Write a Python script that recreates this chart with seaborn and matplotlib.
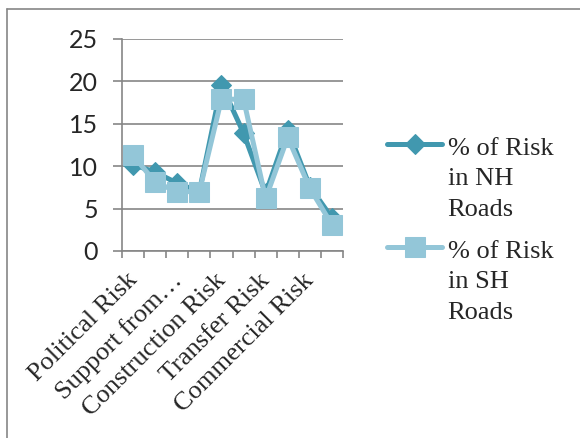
import numpy as np
import pandas as pd
import seaborn as sns
import matplotlib.pyplot as plt
from matplotlib.legend_handler import HandlerLine2D
from matplotlib.lines import Line2D
import matplotlib.transforms as mtransforms

# categories (only every second one is labelled in the original chart)
risks = ['Political Risk', 'Financial Risk', 'Support from\u2026', 'Design Risk',
         'Construction Risk', 'Operation Risk', 'Transfer Risk', 'Revenue Risk',
         'Commercial Risk', 'Force Majeure']
nh_risk = [10.2, 9.3, 8.0, 7.0, 19.6, 13.9, 6.8, 14.3, 7.6, 3.9]
sh_risk = [11.3, 8.1, 7.0, 7.0, 17.9, 17.9, 6.2, 13.4, 7.4, 3.1]
series_names = ['% of Risk\nin NH\nRoads', '% of Risk\nin SH\nRoads']

nh_color = '#4198AF'
sh_color = '#93C6D8'
grey = '#868686'

df = pd.DataFrame({'pos': np.arange(len(risks)), 'risk': risks,
                   'nh': nh_risk, 'sh': sh_risk})

sns.set_style('white')
fig = plt.figure(figsize=(5.8, 4.38), dpi=100)
ax = fig.add_axes([122 / 580, 1 - 251 / 438, (343 - 122) / 580, (251 - 39) / 438])

sns.lineplot(data=df, x='pos', y='nh', ax=ax, color=nh_color, lw=3.6,
             marker='D', markersize=10, markeredgecolor=nh_color, label=series_names[0])
sns.lineplot(data=df, x='pos', y='sh', ax=ax, color=sh_color, lw=3.6,
             marker='s', markersize=14, markeredgecolor=sh_color, label=series_names[1])

ax.set_xlim(-0.5, len(risks) - 0.5)
ax.set_ylim(0, 25)
ax.set_yticks(np.arange(0, 26, 5))
ax.yaxis.grid(True, color=grey, lw=1.2)
ax.set_axisbelow(True)
ax.set_xlabel('')
ax.set_ylabel('')

for s in ['top', 'right']:
    ax.spines[s].set_visible(False)
for s in ['left', 'bottom']:
    ax.spines[s].set_color(grey)
    ax.spines[s].set_linewidth(1.2)

# y ticks
ax.tick_params(axis='y', direction='out', length=6.5, width=1.2, color=grey, pad=11,
               left=True)
for lab in ax.get_yticklabels():
    lab.set_fontfamily('Lato')
    lab.set_fontsize(18)

# x: boundary ticks, labels on every second category
ax.set_xticks(np.arange(-0.5, len(risks)), minor=True)
ax.set_xticks(df['pos'][::2])
ax.set_xticklabels(df['risk'][::2], family='Liberation Serif', fontsize=19,
                   rotation=45, ha='right', va='top', rotation_mode='anchor')
ax.tick_params(axis='x', which='major', length=0, pad=13)
ax.tick_params(axis='x', which='minor', direction='out', length=5, width=1.2,
               color=grey, bottom=True)
offset = mtransforms.ScaledTranslation(-7 / 100, 0, fig.dpi_scale_trans)
for lab in ax.get_xticklabels():
    lab.set_transform(lab.get_transform() + offset)


class TopLineHandler(HandlerLine2D):
    # put the legend symbol next to the first line of the label
    def create_artists(self, legend, orig_handle, xdescent, ydescent, width,
                       height, fontsize, trans):
        arts = super().create_artists(legend, orig_handle, xdescent, ydescent,
                                      width, height, fontsize, trans)
        for a in arts:
            a.set_ydata(np.asarray(a.get_ydata()) + fontsize * 1.31)
        return arts


handles, labels = ax.get_legend_handles_labels()
leg = ax.legend(handles, labels, loc='upper left', bbox_to_anchor=(387 / 580, 1 - 138 / 438),
                bbox_transform=fig.transFigure, frameon=False,
                prop={'family': 'Liberation Serif', 'size': 19},
                handlelength=2.1, handletextpad=0.2, labelspacing=0.75,
                borderpad=0, borderaxespad=0,
                handler_map={Line2D: TopLineHandler()})
for t in leg.get_texts():
    t.set_fontfamily('Liberation Serif')
    t.set_linespacing(1.5)

# chart area border
fig.add_artist(Line2D([7 / 580, 7 / 580], [0, 1 - 9 / 438], color=grey, lw=1.2,
                      transform=fig.transFigure))
fig.add_artist(Line2D([7 / 580, 1], [1 - 9 / 438, 1 - 9 / 438], color=grey, lw=1.2,
                      transform=fig.transFigure))

fig.savefig('out.png', dpi=100)
